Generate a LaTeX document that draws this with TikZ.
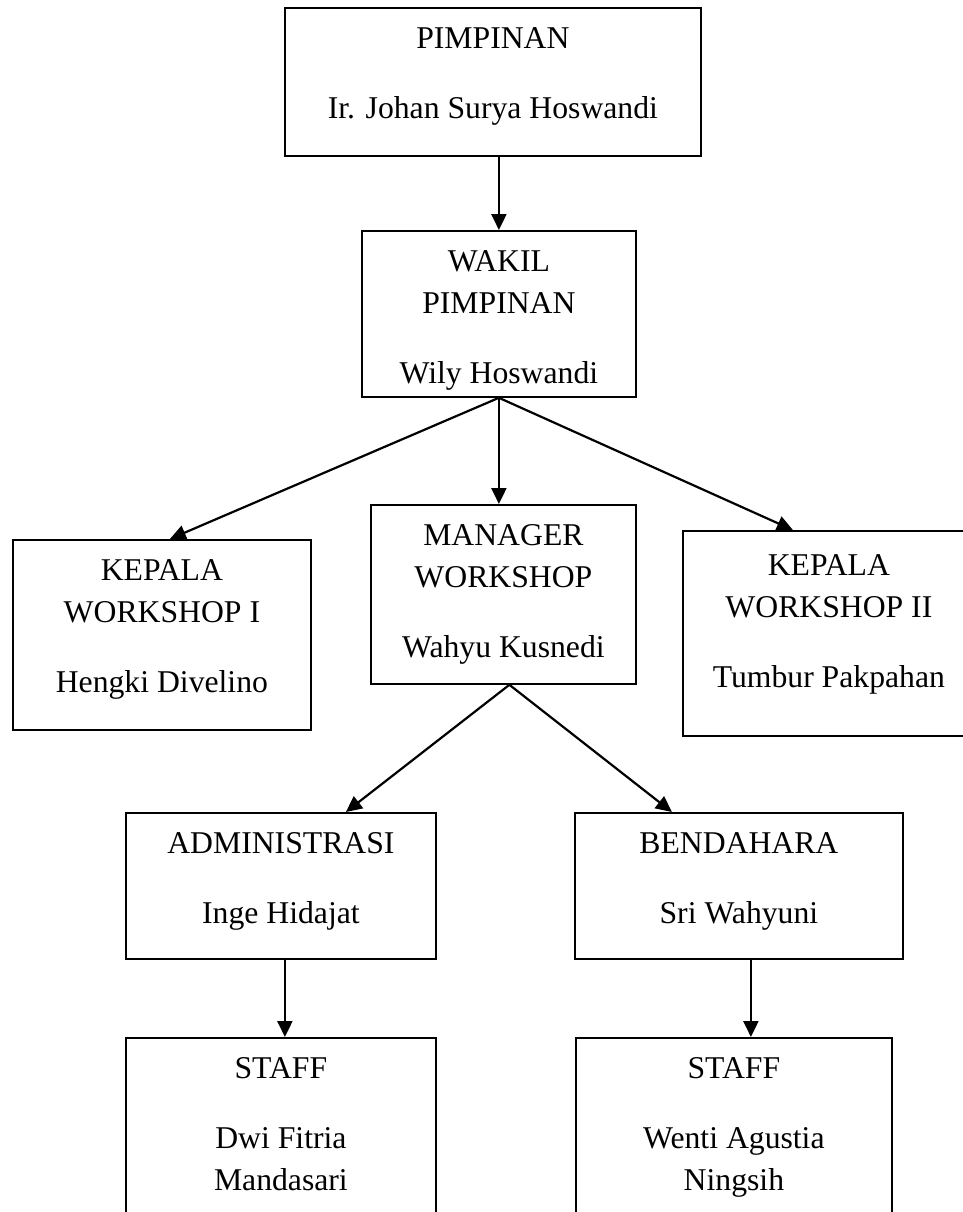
\documentclass[tikz,border=0pt]{standalone}
\usepackage{fontspec}
\setmainfont{Liberation Serif}
\usetikzlibrary{arrows.meta, positioning}

\newcommand{\isikotak}[4][20pt]{\parbox[c][#3][t]{#2}{\centering\vspace*{#1}#4}}

\begin{document}
\begin{tikzpicture}[x=1pt, y=-1pt,
    kotak/.style={draw, line width=1.8pt, inner sep=0pt, anchor=north west,
        font=\fontsize{31.7}{42}\selectfont},
    panah/.style={line width=2.2pt, -{Triangle[length=16pt, width=15pt]}}]

            \useasboundingbox (0,0) rectangle (963,1212);

            % Vẽ khung pimpinan và wakil
            \node[kotak] (pimpinan) at (284,7) {\isikotak{416pt}{148pt}{PIMPINAN\\[28pt]Ir. Johan Surya Hoswandi}};
            \node[kotak] (wakil) at (361,230) {\isikotak{274pt}{166pt}{WAKIL\\PIMPINAN\\[28pt]Wily Hoswandi}};

            % Vẽ hàng khung thứ hai
            \node[kotak] (kepala1) at (12,539) {\isikotak{298pt}{190pt}{KEPALA\\WORKSHOP I\\[28pt]Hengki Divelino}};
            \node[kotak] (manager) at (370,504) {\isikotak{265pt}{179pt}{MANAGER\\WORKSHOP\\[28pt]Wahyu Kusnedi}};
            \node[kotak] (kepala2) at (682,530) {\isikotak[24pt]{292pt}{205pt}{KEPALA\\WORKSHOP II\\[28pt]Tumbur Pakpahan}};

            % Vẽ khung administrasi và bendahara
            \node[kotak] (admin) at (125,812) {\isikotak{310pt}{146pt}{ADMINISTRASI\\[28pt]Inge Hidajat}};
            \node[kotak] (bendahara) at (574,812) {\isikotak{328pt}{146pt}{BENDAHARA\\[28pt]Sri Wahyuni}};

            % Vẽ khung staff
            \node[kotak] (staff1) at (125,1037) {\isikotak{310pt}{200pt}{STAFF\\[28pt]Dwi Fitria\\Mandasari}};
            \node[kotak] (staff2) at (575,1037) {\isikotak{316pt}{200pt}{STAFF\\[28pt]Wenti Agustia\\Ningsih}};

            % Vẽ mũi tên
            \draw[panah] (pimpinan.south -| wakil.north) -- (wakil.north);
            \draw[panah] (wakil.south) -- ([xshift=8pt]kepala1.north);
            \draw[panah] (wakil.south) -- (wakil.south |- manager.north);
            \draw[panah] (wakil.south) -- ([xshift=-36pt]kepala2.north);
            \draw[panah] ([xshift=6pt]manager.south) -- ([xshift=65pt]admin.north);
            \draw[panah] ([xshift=6pt]manager.south) -- ([xshift=-67pt]bendahara.north);
            \draw[panah] ([xshift=4pt]admin.south) -- ([xshift=4pt]admin.south |- staff1.north);
            \draw[panah] ([xshift=12pt]bendahara.south) -- ([xshift=12pt]bendahara.south |- staff2.north);

            \end{tikzpicture}
\end{document}
